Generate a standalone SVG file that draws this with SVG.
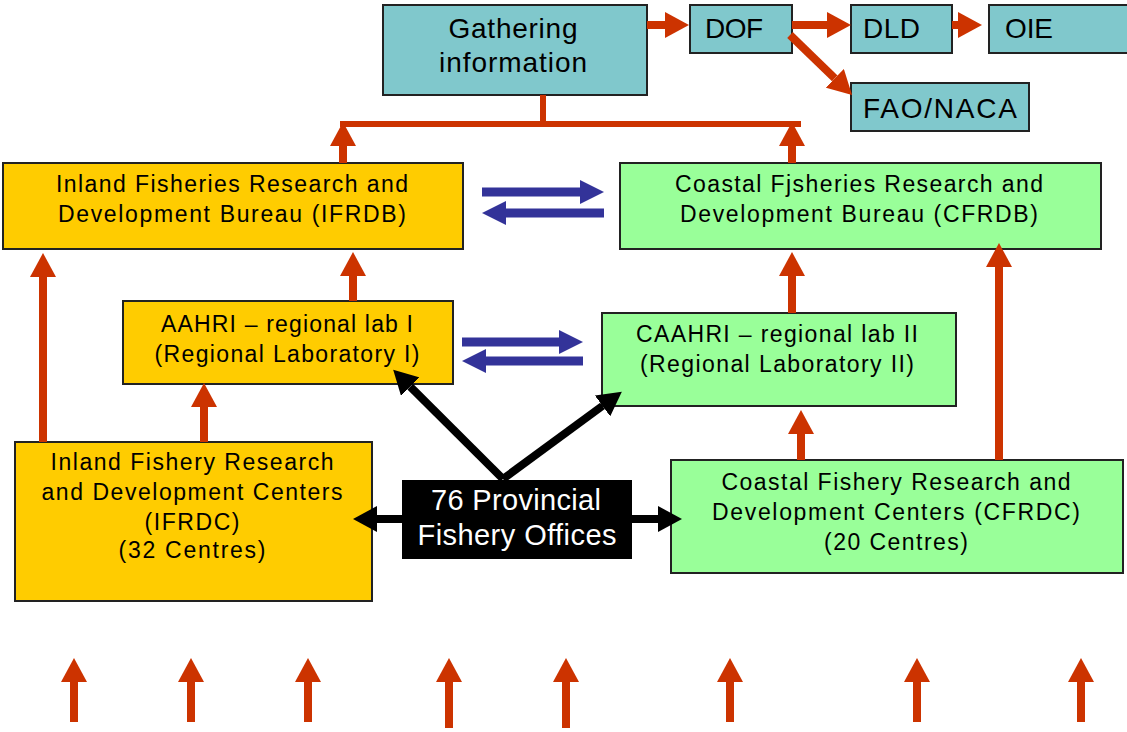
<svg xmlns="http://www.w3.org/2000/svg" width="1127" height="732" viewBox="0 0 1127 732">
  <style>
    .box { stroke: #222; stroke-width: 2; }
    .teal { fill: #80C8CC; }
    .yellow { fill: #FFCC00; }
    .green { fill: #99FF99; }
    .dark { fill: #000; }
    .t { font-family: "Liberation Sans", Arial, sans-serif; font-size: 23px; fill: #000; text-anchor: middle; }
    .tl { font-family: "Liberation Sans", Arial, sans-serif; font-size: 28px; fill: #000; text-anchor: start; }
    .tg { font-family: "Liberation Sans", Arial, sans-serif; font-size: 28px; fill: #000; text-anchor: middle; }
    .tw { font-family: "Liberation Sans", Arial, sans-serif; font-size: 29px; fill: #fff; text-anchor: middle; }
    .red { stroke: #CC3300; stroke-width: 8; fill: none; }
    .redbar { stroke: #CC3300; stroke-width: 6; fill: none; }
    .blue { stroke: #333399; stroke-width: 9; fill: none; }
    .blk { stroke: #000; stroke-width: 8; fill: none; }
  </style>
  <defs>
    <marker id="headRed" markerUnits="userSpaceOnUse" markerWidth="24" markerHeight="26" refX="0" refY="13" orient="auto">
      <path d="M0,0 L24,13 L0,26 Z" fill="#CC3300"/>
    </marker>
    <marker id="headBlue" markerUnits="userSpaceOnUse" markerWidth="24" markerHeight="24" refX="0" refY="12" orient="auto">
      <path d="M0,0 L24,12 L0,24 Z" fill="#333399"/>
    </marker>
    <marker id="headBlack" markerUnits="userSpaceOnUse" markerWidth="24" markerHeight="26" refX="0" refY="13" orient="auto">
      <path d="M0,0 L24,13 L0,26 Z" fill="#000"/>
    </marker>
  </defs>

  <rect width="1127" height="732" fill="#fff"/>

  <!-- Nodes -->
  <g id="gathering">
    <rect class="box teal" x="383" y="5" width="264" height="90"/>
    <text class="tg" x="513" y="38" textLength="129" lengthAdjust="spacing">Gathering</text>
    <text class="tg" x="513" y="72" textLength="148" lengthAdjust="spacing">information</text>
  </g>
  <g id="dof">
    <rect class="box teal" x="690" y="5" width="102" height="48"/>
    <text class="tl" x="705" y="38" textLength="58" lengthAdjust="spacing">DOF</text>
  </g>
  <g id="dld">
    <rect class="box teal" x="851" y="5" width="101" height="48"/>
    <text class="tl" x="863" y="38" textLength="57" lengthAdjust="spacing">DLD</text>
  </g>
  <g id="oie">
    <rect class="box teal" x="989" y="5" width="142" height="48"/>
    <text class="tl" x="1005" y="38" textLength="48" lengthAdjust="spacing">OIE</text>
  </g>
  <g id="fao-naca">
    <rect class="box teal" x="851" y="83" width="178" height="48"/>
    <text class="tl" x="863" y="118" textLength="154" lengthAdjust="spacing">FAO/NACA</text>
  </g>

  <g id="ifrdb">
    <rect class="box yellow" x="3" y="163" width="460" height="86"/>
    <text class="t" x="232" y="192" textLength="352" lengthAdjust="spacing">Inland Fisheries Research and</text>
    <text class="t" x="232" y="222" textLength="348" lengthAdjust="spacing">Development Bureau (IFRDB)</text>
  </g>
  <g id="cfrdb">
    <rect class="box green" x="620" y="163" width="481" height="86"/>
    <text class="t" x="859" y="192" textLength="368" lengthAdjust="spacing">Coastal Fjsheries Research and</text>
    <text class="t" x="859" y="222" textLength="358" lengthAdjust="spacing">Development Bureau (CFRDB)</text>
  </g>
  <g id="aahri">
    <rect class="box yellow" x="123" y="301" width="330" height="83"/>
    <text class="t" x="287" y="332" textLength="252" lengthAdjust="spacing">AAHRI – regional lab I</text>
    <text class="t" x="287" y="362" textLength="265" lengthAdjust="spacing">(Regional Laboratory I)</text>
  </g>
  <g id="caahri">
    <rect class="box green" x="602" y="313" width="354" height="93"/>
    <text class="t" x="777" y="342" textLength="282" lengthAdjust="spacing">CAAHRI – regional lab II</text>
    <text class="t" x="777" y="372" textLength="274" lengthAdjust="spacing">(Regional Laboratory II)</text>
  </g>
  <g id="ifrdc">
    <rect class="box yellow" x="15" y="442" width="357" height="159"/>
    <text class="t" x="192" y="470" textLength="283" lengthAdjust="spacing">Inland Fishery Research</text>
    <text class="t" x="192" y="500" textLength="301" lengthAdjust="spacing">and Development Centers</text>
    <text class="t" x="192" y="530" textLength="95" lengthAdjust="spacing">(IFRDC)</text>
    <text class="t" x="192" y="558" textLength="147" lengthAdjust="spacing">(32 Centres)</text>
  </g>
  <g id="cfrdc">
    <rect class="box green" x="671" y="460" width="452" height="113"/>
    <text class="t" x="896" y="490" textLength="349" lengthAdjust="spacing">Coastal Fishery Research and</text>
    <text class="t" x="896" y="520" textLength="368" lengthAdjust="spacing">Development Centers (CFRDC)</text>
    <text class="t" x="896" y="550" textLength="144" lengthAdjust="spacing">(20 Centres)</text>
  </g>
  <g id="provincial">
    <rect class="dark" x="402" y="480" width="230" height="79"/>
    <text class="tw" x="516" y="510" textLength="170" lengthAdjust="spacing">76 Provincial</text>
    <text class="tw" x="517" y="545" textLength="199" lengthAdjust="spacing">Fishery Offices</text>
  </g>

  <!-- Connectors -->
  <g id="connectors">
    <!-- reporting chain at the top -->
    <line class="red" x1="647" y1="25" x2="665" y2="25" marker-end="url(#headRed)"/>
    <line class="red" x1="792" y1="25" x2="827" y2="25" marker-end="url(#headRed)"/>
    <line class="red" x1="952" y1="25" x2="958" y2="25" marker-end="url(#headRed)"/>
    <line class="red" x1="790" y1="35" x2="834.8" y2="78.3" marker-end="url(#headRed)"/>

    <!-- collector bar under "Gathering information" -->
    <line class="redbar" x1="543" y1="95" x2="543" y2="124"/>
    <line class="redbar" x1="340" y1="124" x2="801" y2="124"/>

    <!-- bureaus up to the bar -->
    <line class="red" x1="343" y1="163" x2="343" y2="146" marker-end="url(#headRed)"/>
    <line class="red" x1="792" y1="163" x2="792" y2="146" marker-end="url(#headRed)"/>

    <!-- inland side -->
    <line class="red" x1="43" y1="442" x2="43" y2="277" marker-end="url(#headRed)"/>
    <line class="red" x1="353" y1="301" x2="353" y2="276" marker-end="url(#headRed)"/>
    <line class="red" x1="204" y1="442" x2="204" y2="407" marker-end="url(#headRed)"/>

    <!-- coastal side -->
    <line class="red" x1="792" y1="313" x2="792" y2="276" marker-end="url(#headRed)"/>
    <line class="red" x1="801" y1="460" x2="801" y2="434" marker-end="url(#headRed)"/>
    <line class="red" x1="999" y1="460" x2="999" y2="267" marker-end="url(#headRed)"/>

    <!-- exchange between inland and coastal -->
    <line class="blue" x1="482" y1="192" x2="580" y2="192" marker-end="url(#headBlue)"/>
    <line class="blue" x1="604" y1="213" x2="506" y2="213" marker-end="url(#headBlue)"/>
    <line class="blue" x1="462" y1="342" x2="559" y2="342" marker-end="url(#headBlue)"/>
    <line class="blue" x1="583" y1="361" x2="486" y2="361" marker-end="url(#headBlue)"/>

    <!-- provincial offices -->
    <line class="blk" x1="402" y1="519" x2="377" y2="519" marker-end="url(#headBlack)"/>
    <line class="blk" x1="632" y1="519" x2="658" y2="519" marker-end="url(#headBlack)"/>
    <line class="blk" x1="503" y1="479" x2="410.2" y2="386.7" marker-end="url(#headBlack)"/>
    <line class="blk" x1="503" y1="479" x2="602.5" y2="405.9" marker-end="url(#headBlack)"/>

    <!-- inputs from below -->
    <line class="red" x1="74" y1="722" x2="74" y2="682" marker-end="url(#headRed)"/>
    <line class="red" x1="191" y1="722" x2="191" y2="682" marker-end="url(#headRed)"/>
    <line class="red" x1="308" y1="722" x2="308" y2="682" marker-end="url(#headRed)"/>
    <line class="red" x1="449" y1="728" x2="449" y2="682" marker-end="url(#headRed)"/>
    <line class="red" x1="566" y1="728" x2="566" y2="682" marker-end="url(#headRed)"/>
    <line class="red" x1="730" y1="722" x2="730" y2="682" marker-end="url(#headRed)"/>
    <line class="red" x1="917" y1="722" x2="917" y2="682" marker-end="url(#headRed)"/>
    <line class="red" x1="1081" y1="722" x2="1081" y2="682" marker-end="url(#headRed)"/>
  </g>
</svg>
